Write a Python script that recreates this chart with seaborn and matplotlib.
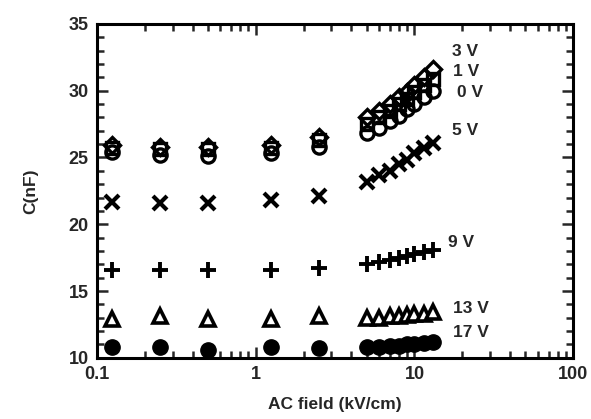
import numpy as np
import pandas as pd
import matplotlib
matplotlib.use("Agg")
import matplotlib.pyplot as plt
import seaborn as sns
from matplotlib.ticker import LogLocator, MultipleLocator, NullFormatter

# ---- data ----
field = [0.125, 0.25, 0.5, 1.25, 2.5, 5, 6, 7, 8, 9, 10, 11.5, 13]
c_3V = [25.9, 25.8, 25.8, 25.9, 26.5, 28.0, 28.5, 29.0, 29.5, 29.9, 30.4, 31.0, 31.6]
c_1V = [25.7, 25.6, 25.6, 25.7, 26.3, 27.5, 28.0, 28.5, 29.0, 29.4, 29.9, 30.4, 30.9]
c_0V = [25.4, 25.2, 25.1, 25.3, 25.8, 26.8, 27.2, 27.7, 28.1, 28.6, 29.0, 29.5, 30.0]
c_5V = [21.7, 21.6, 21.6, 21.8, 22.1, 23.2, 23.7, 24.0, 24.5, 24.8, 25.3, 25.7, 26.1]
c_9V = [16.6, 16.6, 16.6, 16.6, 16.7, 17.0, 17.2, 17.3, 17.5, 17.6, 17.8, 17.9, 18.1]
c_13V = [12.9, 13.1, 12.9, 12.9, 13.1, 13.0, 13.0, 13.1, 13.1, 13.2, 13.3, 13.3, 13.4]
c_17V = [10.8, 10.8, 10.6, 10.8, 10.7, 10.8, 10.8, 10.9, 10.9, 11.0, 11.0, 11.1, 11.2]

labels = ["3 V", "1 V", "0 V", "5 V", "9 V", "13 V", "17 V"]
label_x = [17.3, 17.5, 18.6, 17.3, 16.2, 17.5, 17.5]
label_y = [32.9, 31.4, 29.9, 27.0, 18.6, 13.7, 11.9]

x_ticks = [0.1, 1, 10, 100]
x_ticklabels = ["0.1", "1", "10", "100"]
y_ticks = [10, 15, 20, 25, 30, 35]

# ---- plot ----
sns.set_style("ticks")
plt.rcParams["font.family"] = ["Liberation Sans", "DejaVu Sans"]
plt.rcParams["font.weight"] = "bold"

fig = plt.figure(figsize=(5.91, 4.19), dpi=100)
ax = fig.add_axes([0.164, 0.146, 0.806, 0.797])

series = [
    (c_3V, dict(marker="D", ms=8, mfc="none", mew=2.4)),
    (c_1V, dict(marker="s", ms=8.5, mfc="none", mew=2.4)),
    (c_0V, dict(marker="o", ms=9.5, mfc="none", mew=2.4)),
    (c_5V, dict(marker="x", ms=10, mew=3.0)),
    (c_9V, dict(marker="+", ms=11.5, mew=2.8)),
    (c_13V, dict(marker="^", ms=9.5, mfc="white", mew=2.6)),
    (c_17V, dict(marker="o", ms=11, mfc="black", mew=1.0)),
]
for vals, kw in series:
    df = pd.DataFrame({"field": field, "C": vals})
    sns.lineplot(data=df, x="field", y="C", ax=ax, linestyle="", color="black",
                 mec="black", errorbar=None, **kw)

for t, xx, yy in zip(labels, label_x, label_y):
    ax.text(xx, yy, t, ha="left", va="center", fontsize=12.5, fontweight="bold")

ax.set_xscale("log")
ax.set_xlim(0.1, 100)
ax.set_ylim(10, 35)
ax.set_xticks(x_ticks)
ax.set_xticklabels(x_ticklabels)
ax.xaxis.set_minor_locator(LogLocator(base=10, subs=np.arange(2, 10)))
ax.xaxis.set_minor_formatter(NullFormatter())
ax.set_yticks(y_ticks)
ax.yaxis.set_minor_locator(MultipleLocator(1))

ax.tick_params(which="both", direction="in", top=True, right=True, width=1.8,
               labelsize=13)
ax.tick_params(which="major", length=8, pad=6)
ax.tick_params(which="minor", length=5)
for lab in ax.get_xticklabels() + ax.get_yticklabels():
    lab.set_fontweight("bold")
for sp in ax.spines.values():
    sp.set_linewidth(2.2)
    sp.set_color("black")

ax.set_xlabel("AC field (kV/cm)", fontsize=12.5, fontweight="bold", labelpad=10)
ax.set_ylabel("C(nF)", fontsize=12.5, fontweight="bold", labelpad=22)

fig.savefig("out.png", dpi=100)
